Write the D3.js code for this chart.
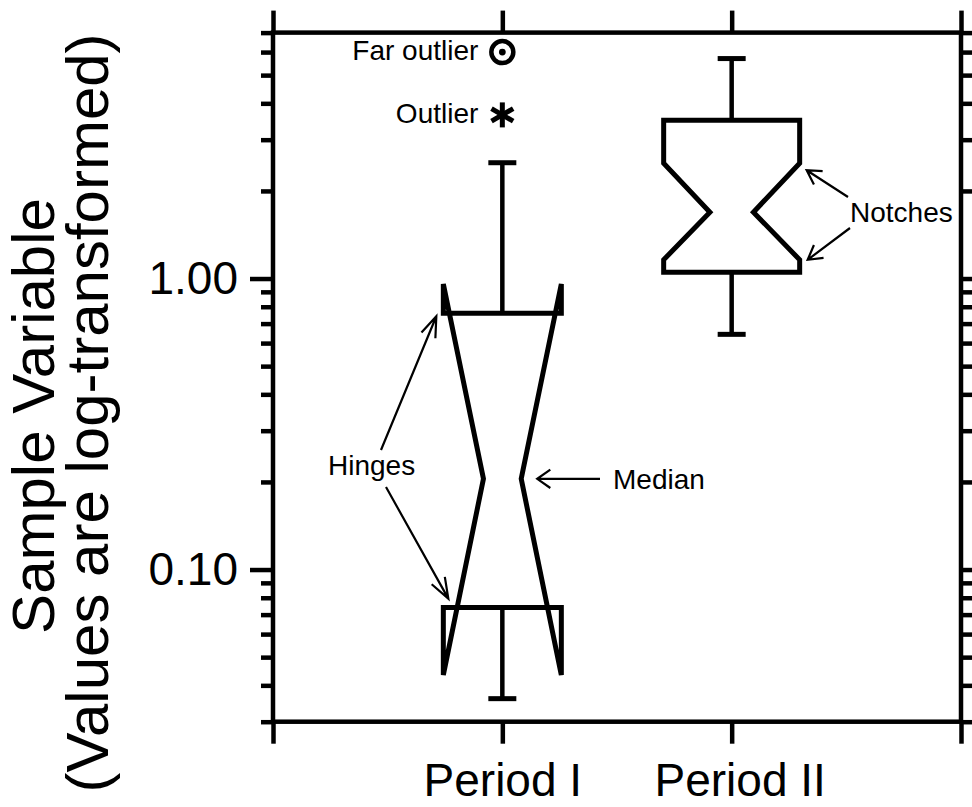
<!DOCTYPE html>
<html>
<head>
<meta charset="utf-8">
<script src="https://cdn.jsdelivr.net/npm/d3@7/dist/d3.min.js"></script>
<style>
  html, body { margin: 0; padding: 0; background: #fff; }
  svg { display: block; }
  text { font-family: "Liberation Sans", Arial, Helvetica, sans-serif; fill: #000; }
</style>
</head>
<body>
<svg id="chart" width="972" height="807"></svg>
<script>
// Box-plot summary per period (log-scaled values)
const categories = ['Period I', 'Period II'];
const whiskerLow = [0.036, 0.643];
const lowerHinge = [0.074, 1.05];
const notchLow = [0.0434, 1.16];
const median = [0.205, 1.69];
const notchHigh = [0.957, 2.49];
const upperHinge = [0.76, 3.5];
const whiskerHigh = [2.5, 5.7];
const outliers = [[3.65], []];
const farOutliers = [[6.0], []];

// Y axis ticks
const majorTicks = [0.1, 1];
const minorTicks = [0.03, 0.04, 0.05, 0.06, 0.07, 0.08, 0.09,
  0.2, 0.3, 0.4, 0.5, 0.6, 0.7, 0.8, 0.9, 2, 3, 4, 5, 6, 7];

// Box drawing sizes (px)
const boxHalf = [59, 68];
const notchRatio = 0.32;
const capHalf = 14;

const svg = d3.select('#chart');

const x = d3.scaleLinear().domain([0, 3]).range([273, 961]);
const y = d3.scaleLog().domain([0.03, 7]).range([721.7, 32.6]);

const yTop = y(7), yBottom = y(0.03), xLeft = x(0), xRight = x(3);

// --- axes ---
function styleAxis(g) {
  g.select('.domain').remove();
  g.selectAll('.tick line').attr('stroke', '#000').attr('stroke-width', 4.5);
}

svg.append('g')
  .attr('transform', `translate(${xLeft},0)`)
  .call(d3.axisLeft(y).tickValues(minorTicks).tickSize(12).tickFormat(''))
  .call(styleAxis);

svg.append('g')
  .attr('transform', `translate(${xLeft},0)`)
  .call(d3.axisLeft(y).tickValues(majorTicks).tickSize(23).tickPadding(12)
    .tickFormat(d3.format('.2f')))
  .call(styleAxis)
  .selectAll('text')
  .attr('font-size', 46)
  .attr('font-family', '"Liberation Sans", Arial, sans-serif');

svg.append('g')
  .attr('transform', `translate(${xRight},0)`)
  .call(d3.axisRight(y).tickValues(minorTicks).tickSize(12).tickFormat(''))
  .call(styleAxis);

svg.append('g')
  .attr('transform', `translate(${xRight},0)`)
  .call(d3.axisRight(y).tickValues(majorTicks).tickSize(23).tickFormat(''))
  .call(styleAxis);

svg.append('g')
  .attr('transform', `translate(0,${yTop})`)
  .call(d3.axisTop(x).tickValues([0, 1, 2, 3]).tickSize(22).tickFormat(''))
  .call(styleAxis);

svg.append('g')
  .attr('transform', `translate(0,${yBottom})`)
  .call(d3.axisBottom(x).tickValues([0, 1, 2, 3]).tickSize(22).tickPadding(20)
    .tickFormat(d => categories[d - 1] || ''))
  .call(styleAxis)
  .selectAll('text')
  .attr('font-size', 46)
  .attr('font-family', '"Liberation Sans", Arial, sans-serif')
  .attr('dx', d => d === 2 ? 8 : 0);

// frame
svg.append('rect')
  .attr('x', xLeft).attr('y', yTop)
  .attr('width', xRight - xLeft).attr('height', yBottom - yTop)
  .attr('fill', 'none').attr('stroke', '#000').attr('stroke-width', 4.5);

// --- y title ---
const title = svg.append('g').attr('font-size', 60);
title.append('text')
  .attr('transform', 'translate(54,416) rotate(-90)')
  .attr('text-anchor', 'middle')
  .text('Sample Variable');
title.append('text')
  .attr('transform', 'translate(108,413) rotate(-90)')
  .attr('text-anchor', 'middle')
  .text('(Values are log-transformed)');

// --- boxes ---
const plot = svg.append('g')
  .attr('fill', 'none').attr('stroke', '#000');

categories.forEach((c, i) => {
  const cx = x(i + 1);
  const h = boxHalf[i];
  const n = h * notchRatio;
  const g = plot.append('g');

  // whiskers
  g.append('line')
    .attr('x1', cx).attr('x2', cx)
    .attr('y1', y(upperHinge[i])).attr('y2', y(whiskerHigh[i]))
    .attr('stroke-width', 4.5);
  g.append('line')
    .attr('x1', cx).attr('x2', cx)
    .attr('y1', y(lowerHinge[i])).attr('y2', y(whiskerLow[i]))
    .attr('stroke-width', 4.5);
  [whiskerHigh[i], whiskerLow[i]].forEach(v => {
    g.append('line')
      .attr('x1', cx - capHalf).attr('x2', cx + capHalf)
      .attr('y1', y(v)).attr('y2', y(v))
      .attr('stroke-width', 5);
  });

  // notched box
  const pts = [
    [cx - h, y(upperHinge[i])],
    [cx - h, y(notchHigh[i])],
    [cx - n, y(median[i])],
    [cx - h, y(notchLow[i])],
    [cx - h, y(lowerHinge[i])],
    [cx + h, y(lowerHinge[i])],
    [cx + h, y(notchLow[i])],
    [cx + n, y(median[i])],
    [cx + h, y(notchHigh[i])],
    [cx + h, y(upperHinge[i])]
  ];
  g.append('path')
    .attr('d', d3.line()(pts) + 'Z')
    .attr('stroke-width', 5)
    .attr('stroke-linejoin', 'miter')
    .attr('stroke-miterlimit', 3);

  // outliers: asterisk
  outliers[i].forEach(v => {
    const oy = y(v), r = 12.5;
    [90, 30, -30].forEach(a => {
      const t = a * Math.PI / 180;
      g.append('line')
        .attr('x1', cx - r * Math.cos(t)).attr('y1', oy - r * Math.sin(t))
        .attr('x2', cx + r * Math.cos(t)).attr('y2', oy + r * Math.sin(t))
        .attr('stroke-width', 5);
    });
  });

  // far outliers: ringed dot
  farOutliers[i].forEach(v => {
    const oy = y(v);
    g.append('circle').attr('cx', cx).attr('cy', oy).attr('r', 11)
      .attr('stroke-width', 4.5);
    g.append('circle').attr('cx', cx).attr('cy', oy).attr('r', 3.4)
      .attr('fill', '#000').attr('stroke', 'none');
  });
});

// --- annotations ---
const ann = svg.append('g').attr('font-size', 28);

function arrow(x1, y1, x2, y2, len, spread) {
  const a = Math.atan2(y1 - y2, x1 - x2);
  const s = spread * Math.PI / 180;
  const p = d3.path();
  p.moveTo(x1, y1); p.lineTo(x2, y2);
  p.moveTo(x2 + len * Math.cos(a + s), y2 + len * Math.sin(a + s));
  p.lineTo(x2, y2);
  p.lineTo(x2 + len * Math.cos(a - s), y2 + len * Math.sin(a - s));
  ann.append('path').attr('d', p.toString())
    .attr('fill', 'none').attr('stroke', '#000').attr('stroke-width', 2.2);
}

const c1 = x(1), c2 = x(2);

ann.append('text').attr('x', c1 - 24).attr('y', y(farOutliers[0][0]) + 8)
  .attr('text-anchor', 'end').text('Far outlier');
ann.append('text').attr('x', c1 - 24).attr('y', y(outliers[0][0]) + 8)
  .attr('text-anchor', 'end').text('Outlier');

// hinges
ann.append('text').attr('x', 328).attr('y', 475).text('Hinges');
arrow(381, 450, c1 - boxHalf[0] - 7, y(upperHinge[0]) + 3, 22, 20);
arrow(386, 487, c1 - boxHalf[0] + 5, y(lowerHinge[0]) - 9, 22, 20);

// median
const my = y(median[0]);
ann.append('text').attr('x', 613).attr('y', my + 10).text('Median');
arrow(600, my, c1 + boxHalf[0] * notchRatio + 16, my, 16, 35);

// notches
ann.append('text').attr('x', 850).attr('y', 222).text('Notches');
arrow(848, 197, c2 + boxHalf[1] + 7, y(notchHigh[1]) + 7, 16, 30);
arrow(850, 228, c2 + boxHalf[1] + 8, y(notchLow[1]), 16, 30);
</script>
</body>
</html>
